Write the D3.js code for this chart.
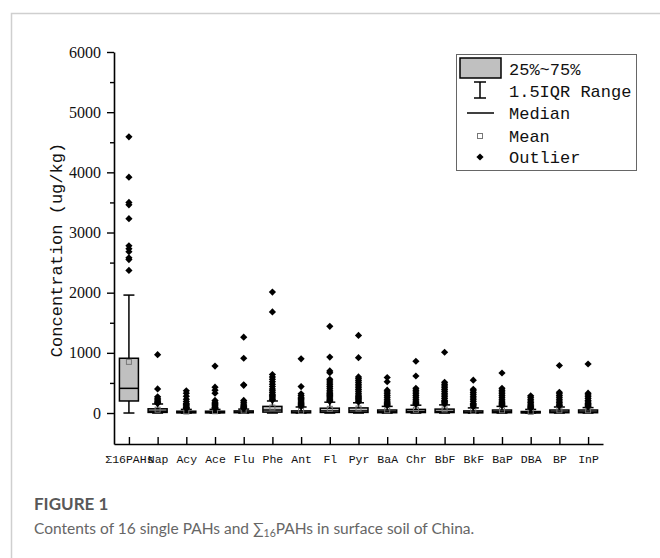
<!DOCTYPE html>
<html lang="en">
<head>
<meta charset="utf-8">
<script src="https://d3js.org/d3.v7.min.js"></script>
<style>
  body { margin: 0; background: #fff; }
  svg { display: block; }
</style>
</head>
<body>
<script>
// data (ug/kg)
var categories = ["\u03A316PAHs", "Nap", "Acy", "Ace", "Flu", "Phe", "Ant", "Fl", "Pyr",
                  "BaA", "Chr", "BbF", "BkF", "BaP", "DBA", "BP", "InP"];
var q1     = [200, 10, 3, 3, 5, 15, 3, 10, 10, 5, 8, 8, 3, 5, 2, 5, 5];
var median = [410, 30, 10, 10, 15, 50, 12, 35, 35, 20, 25, 25, 12, 20, 8, 18, 18];
var q3     = [910, 70, 30, 30, 35, 110, 35, 80, 85, 50, 60, 65, 35, 50, 25, 50, 50];
var mean   = [850, 55, 25, 30, 40, 90, 35, 70, 75, 45, 55, 60, 35, 45, 20, 45, 45];
var whiskerLow  = [0, 0, 0, 0, 0, 0, 0, 0, 0, 0, 0, 0, 0, 0, 0, 0, 0];
var whiskerHigh = [1960, 150, 60, 60, 65, 200, 100, 180, 170, 110, 130, 135, 85, 110, 60, 100, 90];
var outliers = [
  [4590, 3920, 3500, 3460, 3230, 2780, 2730, 2680, 2580, 2550, 2370],
  [970, 400, 270, 245, 220, 200, 185, 170, 160],
  [370, 330, 280, 230, 190, 160, 140, 120, 100, 90, 80, 70],
  [780, 430, 380, 330, 210, 180, 160, 140, 120, 100, 90, 80, 70],
  [1260, 910, 470, 460, 210, 180, 150, 130, 110, 95, 85, 75],
  [2010, 1680, 640, 600, 560, 520, 480, 440, 400, 370, 340, 310, 290, 270, 250, 230, 215],
  [900, 440, 320, 290, 260, 240, 220, 200, 180, 160, 140, 125, 110],
  [1440, 930, 700, 670, 560, 530, 500, 470, 440, 410, 380, 350, 330, 310, 290, 270, 250, 230, 210, 195],
  [1290, 920, 600, 570, 540, 510, 480, 450, 420, 390, 360, 330, 300, 280, 260, 240, 220, 200, 185],
  [590, 520, 380, 350, 320, 290, 260, 230, 200, 180, 160, 140, 125],
  [860, 615, 410, 380, 350, 320, 290, 260, 230, 200, 180, 160, 145],
  [1010, 510, 480, 450, 420, 390, 360, 330, 300, 270, 240, 210, 190, 170, 150],
  [545, 395, 370, 340, 310, 280, 250, 220, 190, 160, 140, 120, 100],
  [665, 410, 380, 350, 320, 290, 260, 230, 200, 180, 160, 140, 125],
  [285, 260, 230, 200, 175, 150, 130, 110, 90, 75],
  [790, 345, 320, 290, 260, 230, 200, 175, 150, 130, 115],
  [815, 330, 300, 270, 240, 210, 185, 160, 140, 120, 105]
];
var yTicks = [0, 1000, 2000, 3000, 4000, 5000, 6000];
var yMinorTicks = [500, 1500, 2500, 3500, 4500, 5500];
var legendLabels = ["25%~75%", "1.5IQR Range", "Median", "Mean", "Outlier"];

var W = 660, H = 558;
var plotLeft = 114, plotRight = 603, plotTop = 52, plotBottom = 444;
var serif = "'Liberation Serif', 'DejaVu Serif', serif";
var mono = "'Liberation Mono', 'DejaVu Sans Mono', monospace";

var svg = d3.select("body").append("svg")
    .attr("width", W)
    .attr("height", H);

// card frame
svg.append("path")
    .attr("d", "M11.5," + H + "V13.5H" + W)
    .attr("fill", "none")
    .attr("stroke", "#cfcfcf")
    .attr("stroke-width", 1.5);

var x = d3.scalePoint()
    .domain(categories)
    .range([plotLeft, plotRight])
    .padding(0.52);

var y = d3.scaleLinear()
    .domain([-515, 6000])
    .range([plotBottom, plotTop]);

var diamond = function(r) {
  return "M0," + (-r) + "L" + r + ",0L0," + r + "L" + (-r) + ",0Z";
};

// y axis
var yAxis = svg.append("g")
    .attr("transform", "translate(" + plotLeft + ",0)")
    .call(d3.axisLeft(y).tickValues(yTicks).tickFormat(d3.format("d"))
      .tickSize(7).tickPadding(6).tickSizeOuter(0));
yAxis.select(".domain").attr("stroke-width", 1.6);
yAxis.selectAll(".tick line").attr("stroke-width", 1.4);
yAxis.selectAll(".tick text")
    .attr("font-family", serif)
    .attr("font-size", 16)
    .attr("fill", "#111");

svg.append("g")
    .attr("transform", "translate(" + plotLeft + ",0)")
    .call(d3.axisLeft(y).tickValues(yMinorTicks).tickSize(4).tickFormat(""))
    .call(function(g) { g.select(".domain").remove(); })
    .selectAll("line").attr("stroke-width", 1.4);

// x axis
var xAxis = svg.append("g")
    .attr("transform", "translate(0," + plotBottom + ")")
    .call(d3.axisBottom(x).tickSize(-7).tickPadding(11).tickSizeOuter(0));
xAxis.select(".domain").attr("stroke-width", 1.6);
xAxis.selectAll(".tick line").attr("stroke-width", 1.4);
xAxis.selectAll(".tick text")
    .attr("font-family", mono)
    .attr("font-size", 11.5)
    .attr("fill", "#111");

svg.append("text")
    .attr("transform", "translate(62," + 250 + ") rotate(-90)")
    .attr("text-anchor", "middle")
    .attr("font-family", mono)
    .attr("font-size", 17)
    .attr("fill", "#111")
    .text("Concentration (ug/kg)");

// boxes
var boxW = 19, capW = 11;
var box = svg.selectAll(".box")
    .data(categories)
    .enter()
    .append("g")
    .attr("class", "box")
    .attr("transform", function(d) { return "translate(" + x(d) + ",0)"; });

box.append("line")
    .attr("y1", function(d, i) { return y(q3[i]); })
    .attr("y2", function(d, i) { return y(whiskerHigh[i]); })
    .attr("stroke", "#000").attr("stroke-width", 1.5);
box.append("line")
    .attr("y1", function(d, i) { return y(q1[i]); })
    .attr("y2", function(d, i) { return y(whiskerLow[i]); })
    .attr("stroke", "#000").attr("stroke-width", 1.5);
box.append("line")
    .attr("x1", -capW / 2).attr("x2", capW / 2)
    .attr("y1", function(d, i) { return y(whiskerHigh[i]); })
    .attr("y2", function(d, i) { return y(whiskerHigh[i]); })
    .attr("stroke", "#000").attr("stroke-width", 1.5);
box.append("line")
    .attr("x1", -capW / 2).attr("x2", capW / 2)
    .attr("y1", function(d, i) { return y(whiskerLow[i]); })
    .attr("y2", function(d, i) { return y(whiskerLow[i]); })
    .attr("stroke", "#000").attr("stroke-width", 1.5);
box.append("rect")
    .attr("x", -boxW / 2)
    .attr("width", boxW)
    .attr("y", function(d, i) { return y(q3[i]); })
    .attr("height", function(d, i) { return y(q1[i]) - y(q3[i]); })
    .attr("fill", "#c0c0c0")
    .attr("stroke", "#000")
    .attr("stroke-width", 1.5);
box.append("line")
    .attr("x1", -boxW / 2).attr("x2", boxW / 2)
    .attr("y1", function(d, i) { return y(median[i]); })
    .attr("y2", function(d, i) { return y(median[i]); })
    .attr("stroke", "#000").attr("stroke-width", 1.5);
box.append("rect")
    .attr("x", -2.5).attr("width", 5).attr("height", 5)
    .attr("y", function(d, i) { return y(mean[i]) - 2.5; })
    .attr("fill", "none")
    .attr("stroke", "#777")
    .attr("stroke-width", 1);

box.each(function(d, i) {
  d3.select(this).selectAll(".out")
      .data(outliers[i])
      .enter()
      .append("path")
      .attr("class", "out")
      .attr("d", diamond(3.6))
      .attr("transform", function(v) { return "translate(0," + y(v) + ")"; })
      .attr("fill", "#000");
});

// legend
var lg = svg.append("g");
lg.append("rect")
    .attr("x", 456.5).attr("y", 54.5)
    .attr("width", 180).attr("height", 116)
    .attr("fill", "#fff")
    .attr("stroke", "#666")
    .attr("stroke-width", 1);
var rowY = [69, 91, 113, 136, 157];
lg.append("rect")
    .attr("x", 460).attr("y", 58).attr("width", 41).attr("height", 20)
    .attr("fill", "#c0c0c0").attr("stroke", "#000").attr("stroke-width", 1.5);
lg.append("path")
    .attr("d", "M474,82H486M480,82V98M474,98H486")
    .attr("fill", "none").attr("stroke", "#000").attr("stroke-width", 1.5);
lg.append("line")
    .attr("x1", 467).attr("x2", 494).attr("y1", rowY[2]).attr("y2", rowY[2])
    .attr("stroke", "#000").attr("stroke-width", 1.5);
lg.append("rect")
    .attr("x", 477.5).attr("y", rowY[3] - 2.5).attr("width", 5).attr("height", 5)
    .attr("fill", "none").attr("stroke", "#777").attr("stroke-width", 1);
lg.append("path")
    .attr("d", diamond(3.6))
    .attr("transform", "translate(480," + rowY[4] + ")")
    .attr("fill", "#000");
lg.selectAll(".lt")
    .data(legendLabels)
    .enter()
    .append("text")
    .attr("class", "lt")
    .attr("x", 509)
    .attr("y", function(d, i) { return rowY[i]; })
    .attr("dy", "0.35em")
    .attr("font-family", mono)
    .attr("font-size", 17)
    .attr("fill", "#111")
    .text(function(d) { return d; });

// caption
svg.append("text")
    .attr("x", 34).attr("y", 510)
    .attr("font-family", "Lato, 'Noto Sans', sans-serif")
    .attr("font-size", 17)
    .attr("font-weight", 700)
    .attr("fill", "#585858")
    .text("FIGURE 1");
var cap = svg.append("text")
    .attr("x", 34).attr("y", 534)
    .attr("font-family", "Lato, 'Noto Sans', sans-serif")
    .attr("font-size", 15.5)
    .attr("fill", "#666");
cap.append("tspan").text("Contents of 16 single PAHs and \u2211");
cap.append("tspan").attr("font-size", 10.5).attr("dy", 3).text("16");
cap.append("tspan").attr("dy", -3).text("PAHs in surface soil of China.");
</script>
</body>
</html>
